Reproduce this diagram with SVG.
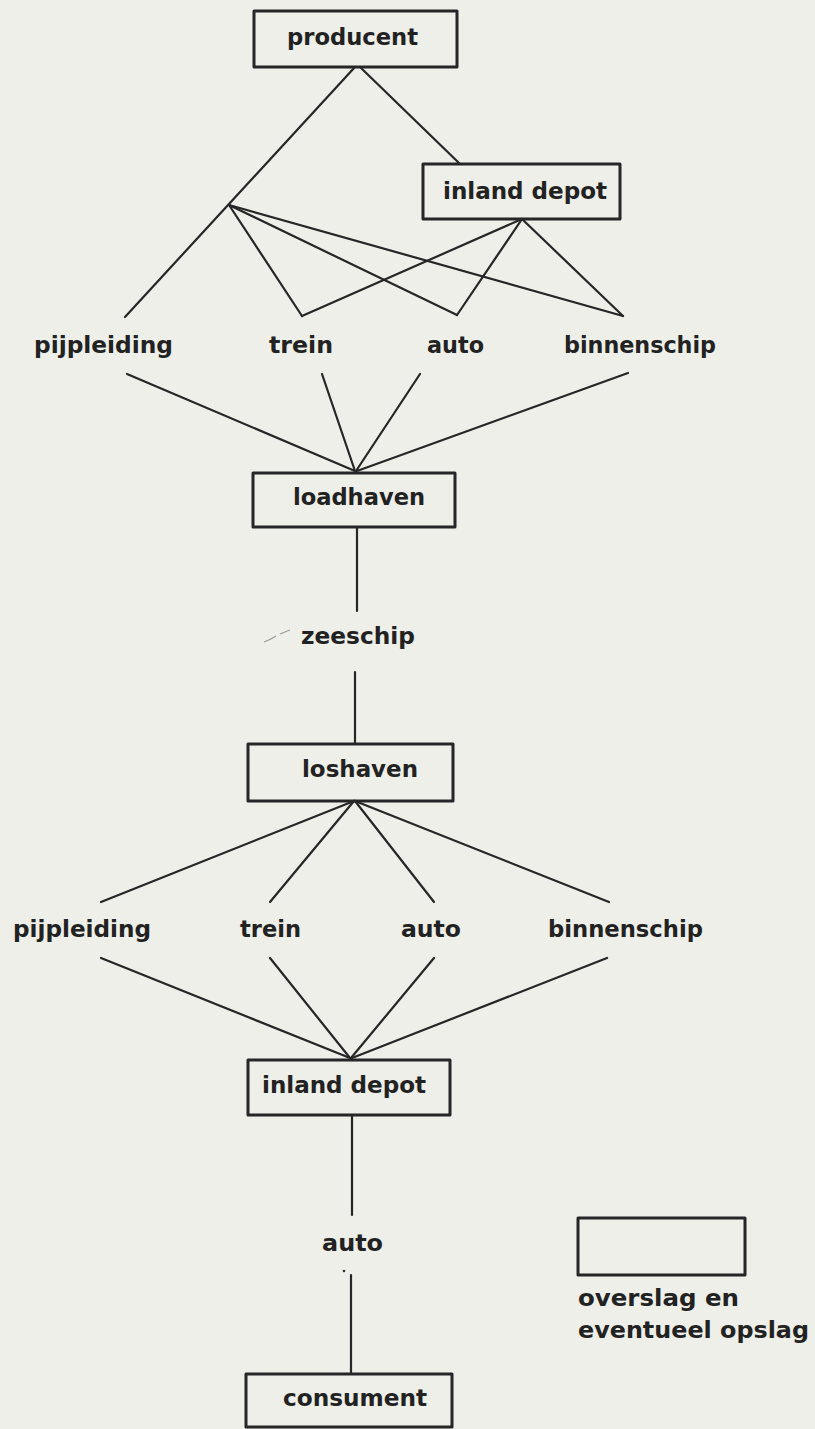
<svg xmlns="http://www.w3.org/2000/svg" width="815" height="1429" viewBox="0 0 815 1429">
<style>
.bg{fill:#edefe8}
.box{fill:none;stroke:#262626;stroke-width:3;stroke-linejoin:round}
.ln{stroke:#262626;stroke-width:2.2;stroke-linecap:round;fill:none}
.t{font-family:"DejaVu Sans","Liberation Sans",sans-serif;font-weight:bold;font-size:23px;fill:#222}
</style>
<rect class="bg" x="0" y="0" width="815" height="1429"/>
<g id="connectors">
<line class="ln" x1="355" y1="67" x2="125" y2="317"/>
<line class="ln" x1="360" y1="67" x2="459" y2="163"/>
<line class="ln" x1="229" y1="205" x2="302" y2="316"/>
<line class="ln" x1="229" y1="205" x2="457" y2="315"/>
<line class="ln" x1="229" y1="205" x2="623" y2="316"/>
<line class="ln" x1="522" y1="219" x2="302" y2="316"/>
<line class="ln" x1="522" y1="219" x2="457" y2="315"/>
<line class="ln" x1="522" y1="219" x2="623" y2="316"/>
<line class="ln" x1="127" y1="374" x2="355" y2="471"/>
<line class="ln" x1="322" y1="374" x2="355" y2="471"/>
<line class="ln" x1="420" y1="374" x2="356" y2="471"/>
<line class="ln" x1="628" y1="373" x2="357" y2="471"/>
<line class="ln" x1="357" y1="527" x2="357" y2="611"/>
<line class="ln" x1="355" y1="672" x2="355" y2="744"/>
<line class="ln" x1="354" y1="801" x2="101" y2="902"/>
<line class="ln" x1="354" y1="801" x2="270" y2="902"/>
<line class="ln" x1="355" y1="801" x2="434" y2="902"/>
<line class="ln" x1="355" y1="801" x2="609" y2="902"/>
<line class="ln" x1="101" y1="958" x2="350" y2="1058"/>
<line class="ln" x1="270" y1="958" x2="350" y2="1058"/>
<line class="ln" x1="434" y1="958" x2="351" y2="1058"/>
<line class="ln" x1="607" y1="958" x2="352" y2="1058"/>
<line class="ln" x1="352" y1="1115" x2="352" y2="1215"/>
<line class="ln" x1="351" y1="1275" x2="351" y2="1374"/>
</g>
<g id="producent">
<rect class="box" x="254" y="11" width="203" height="56"/>
<text class="t" x="287" y="45" textLength="131" lengthAdjust="spacingAndGlyphs">producent</text>
</g>
<g id="inland-depot-1">
<rect class="box" x="423" y="164" width="197" height="55"/>
<text class="t" x="443" y="199" textLength="164" lengthAdjust="spacingAndGlyphs">inland depot</text>
</g>
<g id="pijpleiding-1"><text class="t" x="34" y="353" textLength="139" lengthAdjust="spacingAndGlyphs">pijpleiding</text></g>
<g id="trein-1"><text class="t" x="269" y="353" textLength="64" lengthAdjust="spacingAndGlyphs">trein</text></g>
<g id="auto-1"><text class="t" x="427" y="353" textLength="57" lengthAdjust="spacingAndGlyphs">auto</text></g>
<g id="binnenschip-1"><text class="t" x="564" y="353" textLength="152" lengthAdjust="spacingAndGlyphs">binnenschip</text></g>
<g id="loadhaven">
<rect class="box" x="253" y="473" width="202" height="54"/>
<text class="t" x="293" y="505" textLength="132" lengthAdjust="spacingAndGlyphs">loadhaven</text>
</g>
<g id="zeeschip">
<path d="M264 642 Q270 640 276 636 M280 634 L290 630" stroke="#9a9a9a" stroke-width="1.2" fill="none"/>
<text class="t" x="301" y="644" textLength="114" lengthAdjust="spacingAndGlyphs">zeeschip</text>
</g>
<g id="loshaven">
<rect class="box" x="248" y="744" width="205" height="57"/>
<text class="t" x="302" y="777" textLength="116" lengthAdjust="spacingAndGlyphs">loshaven</text>
</g>
<g id="pijpleiding-2"><text class="t" x="13" y="937" textLength="138" lengthAdjust="spacingAndGlyphs">pijpleiding</text></g>
<g id="trein-2"><text class="t" x="240" y="937" textLength="61" lengthAdjust="spacingAndGlyphs">trein</text></g>
<g id="auto-2"><text class="t" x="401" y="937" textLength="60" lengthAdjust="spacingAndGlyphs">auto</text></g>
<g id="binnenschip-2"><text class="t" x="548" y="937" textLength="155" lengthAdjust="spacingAndGlyphs">binnenschip</text></g>
<g id="inland-depot-2">
<rect class="box" x="248" y="1060" width="202" height="55"/>
<text class="t" x="262" y="1093" textLength="164" lengthAdjust="spacingAndGlyphs">inland depot</text>
</g>
<g id="auto-3">
<text class="t" x="322" y="1251" textLength="61" lengthAdjust="spacingAndGlyphs">auto</text>
<circle cx="344" cy="1271" r="1.3" fill="#333"/>
</g>
<g id="consument">
<rect class="box" x="246" y="1374" width="206" height="53"/>
<text class="t" x="283" y="1406" textLength="144" lengthAdjust="spacingAndGlyphs">consument</text>
</g>
<g id="legend">
<rect class="box" x="578" y="1218" width="167" height="57"/>
<text class="t" x="578" y="1306" textLength="161" lengthAdjust="spacingAndGlyphs">overslag en</text>
<text class="t" x="578" y="1338" textLength="231" lengthAdjust="spacingAndGlyphs">eventueel opslag</text>
</g>
</svg>
